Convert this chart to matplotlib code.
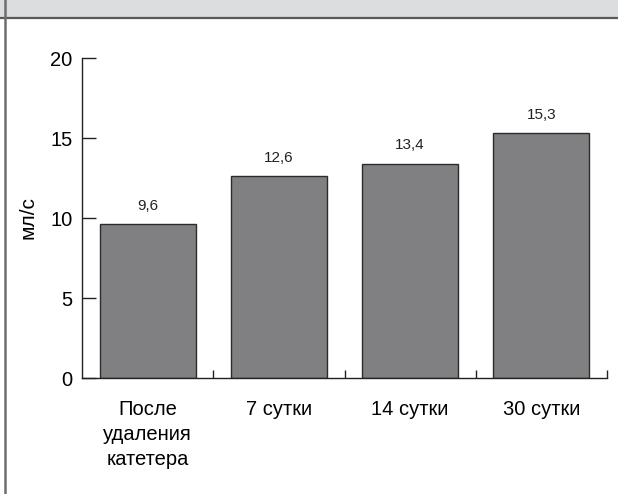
import matplotlib.pyplot as plt
import matplotlib.patches as mpatches
import matplotlib.lines as mlines
import numpy as np

plt.rcParams['font.family'] = ['Liberation Sans', 'DejaVu Sans']

# данные
categories = ['После\nудаления\nкатетера', '7 сутки', '14 сутки', '30 сутки']
values = [9.6, 12.6, 13.4, 15.3]
value_labels = ['9,6', '12,6', '13,4', '15,3']
yticks = [0, 5, 10, 15, 20]

W, H = 618, 494
fig = plt.figure(figsize=(W / 100, H / 100), dpi=100)

# серая плашка сверху и рамка слева
fig.patches.append(mpatches.Rectangle((0, 1 - 18.5 / H), 1, 18.5 / H,
    transform=fig.transFigure, facecolor='#dcdddf', edgecolor='none', zorder=0))
fig.lines.append(mlines.Line2D([0, 1], [1 - 18.5 / H] * 2,
    transform=fig.transFigure, color='#58595b', lw=1.6))
fig.lines.append(mlines.Line2D([4.5 / W] * 2, [0, 1],
    transform=fig.transFigure, color='#6d6e70', lw=1.8))

ax = fig.add_axes([82 / W, 1 - 378 / H, (607 - 82) / W, (378 - 58) / H])
x = np.arange(len(categories))
bars = ax.bar(x, values, width=0.73, color='#808083', edgecolor='#2b2b2b', lw=1.0)

for xi, v, lab in zip(x, values, value_labels):
    ax.annotate(lab, (xi, v), xytext=(0, 8), textcoords='offset points',
                ha='center', va='bottom', fontsize=11, color='#222222')

ax.set_xlim(-0.5, 3.5)
ax.set_ylim(0, 20)
ax.set_yticks(yticks)
ax.set_xticks(x + 0.5)
ax.set_xticklabels([])
ax.set_xticks(x, minor=True)
ax.set_xticklabels(categories, minor=True, fontsize=14.5, linespacing=1.38)
ax.tick_params(axis='x', which='minor', length=0, pad=16)
ax.tick_params(axis='x', which='major', direction='in', length=6, width=1, color='#222222')
ax.tick_params(axis='y', direction='in', length=10, width=1, color='#222222',
               labelsize=14.5, pad=7)
ax.set_ylabel('мл/с', fontsize=15, labelpad=9)

for s in ['top', 'right']:
    ax.spines[s].set_visible(False)
for s in ['left', 'bottom']:
    ax.spines[s].set_color('#222222')
    ax.spines[s].set_linewidth(1.0)

fig.savefig('out.png', dpi=100)
